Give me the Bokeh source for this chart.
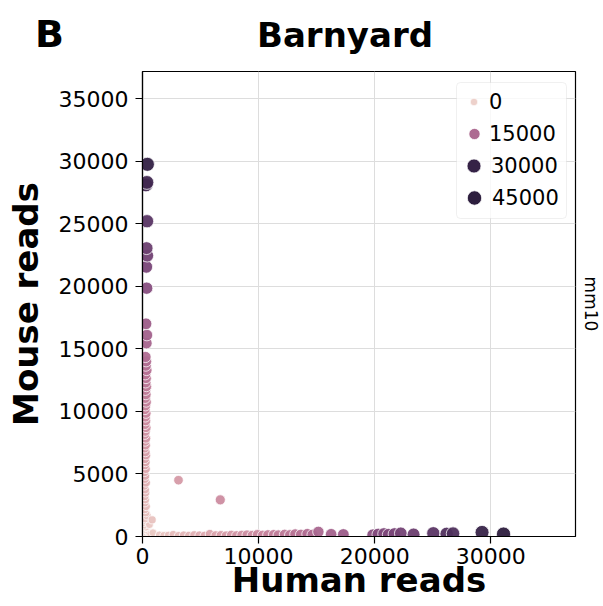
import numpy as np
from bokeh.plotting import figure
from bokeh.layouts import column
from bokeh.models import (Range1d, FixedTicker, Legend, LegendItem, BoxAnnotation, Div,
                          LinearAxis, LinearColorMapper, ColumnDataSource)
from bokeh.embed import file_html
from bokeh.resources import INLINE

# ---------------- data ----------------
# mouse cells: many mouse reads, few human reads
mouse_cells_mouse = [29750, 28300, 28100, 25200, 23050, 22450, 21550, 19850, 17000, 16100,
                     15450, 14350, 14000, 13650, 13300, 12950, 12650, 12300, 12000, 11700,
                     11350, 11050, 10750, 10450, 10150, 9850, 9550, 9250, 8950, 8700,
                     8400, 8150, 7850, 7600, 7300, 7050, 6750, 6500, 6200, 5950,
                     5700, 5400, 5150, 4850, 4600, 4300, 4050, 3750, 3500, 3200,
                     2950, 2700, 2400, 2150, 1900, 1650, 1400, 1200, 950, 750]
mouse_cells_human = [420, 380, 300, 390, 350, 410, 330, 360, 300, 380,
                     340, 260, 310, 280, 350, 240, 300, 270, 330, 250,
                     290, 230, 320, 260, 210, 300, 250, 280, 220, 310,
                     240, 200, 290, 230, 270, 190, 250, 300, 210, 260,
                     220, 280, 180, 240, 200, 300, 170, 230, 260, 190,
                     250, 210, 320, 180, 280, 400, 230, 350, 600, 300]
# human cells: many human reads, few mouse reads
human_cells_human = [31100, 29250, 26750, 26200, 25050, 23350, 22250, 21700, 21200, 20800,
                     20300, 19850, 17300, 16250, 15150, 14650, 14200, 13650, 13150, 12700,
                     12250, 11700, 11300, 10800, 10350, 9900, 9450, 9000, 8550, 8100,
                     7650, 7200, 6750, 6300, 5800, 5350, 4900, 4450, 4000, 3550,
                     3100, 2650, 2250, 1850, 1450]
human_cells_mouse = [190, 330, 230, 210, 260, 160, 250, 200, 150, 210,
                     170, 120, 160, 180, 370, 140, 200, 150, 180, 120,
                     160, 110, 140, 130, 100, 150, 90, 130, 110, 80,
                     120, 70, 100, 90, 200, 60, 90, 110, 70, 100,
                     60, 150, 90, 70, 120]
# low-count barcodes near the origin
low_human = [120, 250, 400, 80, 600, 300, 150, 500, 700, 200,
             350, 100, 450, 900, 250, 180, 60, 320, 550, 800]
low_mouse = [100, 60, 250, 400, 150, 700, 300, 80, 200, 900,
             500, 1100, 120, 300, 150, 550, 650, 40, 350, 100]
# doublets
doublet_human = [3100, 6700, 830]
doublet_mouse = [4500, 2930, 1330]

legend_values = [0, 15000, 30000, 45000]
x_ticks = [0, 10000, 20000, 30000]
y_ticks = [0, 5000, 10000, 15000, 20000, 25000, 30000, 35000]
panel_letter = "B"
title_text = "Barnyard"
facet_text = "mm10"

# ---------------- colour / size scales ----------------
def cubehelix_hex(n, start=0.0, rot=0.4, gamma=1.0, hue=0.8, light=0.85, dark=0.15):
    x = np.linspace(light, dark, n)
    xg = x ** gamma
    a = hue * xg * (1 - xg) / 2
    phi = 2 * np.pi * (start / 3 + rot * x)
    r = xg + a * (-0.14861 * np.cos(phi) + 1.78277 * np.sin(phi))
    g = xg + a * (-0.29227 * np.cos(phi) - 0.90649 * np.sin(phi))
    b = xg + a * (1.97294 * np.cos(phi))
    rgb = np.clip(np.stack([r, g, b], axis=1), 0, 1)
    return ["#%02x%02x%02x" % tuple(int(round(c * 255)) for c in row) for row in rgb]

palette = cubehelix_hex(256)
hue_low, hue_high = 0, 31000
mapper = LinearColorMapper(palette=palette, low=hue_low, high=hue_high)

def color_for(v):
    t = (v - hue_low) / (hue_high - hue_low)
    i = int(min(max(np.floor(t * len(palette)), 0), len(palette) - 1))
    return palette[i]

def size_for(total):
    t = np.clip(np.asarray(total, dtype=float) / 33000.0, 0, 1)
    return np.sqrt(7.5 ** 2 + (14.5 ** 2 - 7.5 ** 2) * t)

human = np.array(mouse_cells_human + human_cells_human + low_human + doublet_human, dtype=float)
mouse = np.array(mouse_cells_mouse + human_cells_mouse + low_mouse + doublet_mouse, dtype=float)
total = human + mouse
order = np.argsort(total)
src = ColumnDataSource(dict(human=human[order], mouse=mouse[order],
                            total=total[order], size=size_for(total[order])))

FONT = "DejaVu Sans"
W = 603
HEADER_H = 60

# ---------------- header: panel letter + title ----------------
header_html = (
    '<div style="position:relative;width:%dpx;height:%dpx;' % (W, HEADER_H)
    + "font-family:'DejaVu Sans',sans-serif;font-weight:bold;color:black;\">"
    '<span style="position:absolute;left:35px;top:15px;font-size:38px;line-height:1;">'
    + panel_letter + '</span>'
    '<span style="position:absolute;left:257px;top:18px;font-size:34px;line-height:1;">'
    + title_text + '</span></div>'
)
header = Div(text=header_html, width=W, height=HEADER_H, margin=0)

# ---------------- main scatter ----------------
p = figure(width=W, height=606 - HEADER_H,
           x_range=Range1d(0, 37300), y_range=Range1d(0, 37170),
           output_backend="svg", toolbar_location=None,
           min_border_left=142, min_border_right=26,
           min_border_top=71 - HEADER_H, min_border_bottom=70)
p.background_fill_color = "white"
p.border_fill_color = "white"
p.outline_line_color = "black"
p.outline_line_width = 1.2

p.scatter("human", "mouse", source=src, size="size",
          fill_color={"field": "total", "transform": mapper},
          fill_alpha=0.95, line_color="white", line_width=0.75)

for ax in (p.xaxis[0], p.yaxis[0]):
    ax.axis_line_color = "black"
    ax.axis_line_width = 1.2
    ax.major_tick_line_color = "black"
    ax.major_tick_line_width = 1.2
    ax.major_tick_in = 0
    ax.major_tick_out = 7
    ax.minor_tick_line_color = None
    ax.major_label_text_font = FONT
    ax.major_label_text_font_size = "22px"
    ax.major_label_text_color = "black"
    ax.axis_label_text_font = FONT
    ax.axis_label_text_font_size = "34px"
    ax.axis_label_text_font_style = "bold"
    ax.axis_label_text_color = "black"

p.xaxis.ticker = FixedTicker(ticks=x_ticks)
p.yaxis.ticker = FixedTicker(ticks=y_ticks)
p.xaxis.axis_label = "Human reads"
p.yaxis.axis_label = "Mouse reads"
p.xaxis.major_label_standoff = 4
p.xaxis.axis_label_standoff = -7
p.yaxis.major_label_standoff = 7
p.yaxis.axis_label_standoff = 10

# facet label on the right, as the label of an empty right axis
facet_axis = LinearAxis(ticker=FixedTicker(ticks=[]), axis_label=facet_text,
                        axis_line_color=None, major_tick_out=0, major_tick_in=0,
                        minor_tick_out=0, minor_tick_in=0, major_label_standoff=0,
                        axis_label_standoff=5, axis_label_text_font=FONT,
                        axis_label_text_font_size="17px", axis_label_text_font_style="normal",
                        axis_label_text_color="black")
p.add_layout(facet_axis, "right")

p.xgrid.grid_line_color = "#dddddd"
p.ygrid.grid_line_color = "#dddddd"
p.xgrid.grid_line_width = 1
p.ygrid.grid_line_width = 1

# data legend frame
p.add_layout(BoxAnnotation(left=314, right=424, bottom=318, top=454,
                           left_units="screen", right_units="screen",
                           top_units="screen", bottom_units="screen",
                           fill_color="white", fill_alpha=0.8,
                           line_color="#cccccc", line_width=1, border_radius=4))

row_centers = [434, 403, 371, 339]
leg_sizes = size_for(legend_values)
GH = 37
for val, d, cy in zip(legend_values, leg_sizes, row_centers):
    col = color_for(val)
    r = p.scatter(x=[np.nan], y=[np.nan], size=float(d), fill_color=col, fill_alpha=1.0,
                  line_color="white", line_width=0.75)
    gw = int(round(float(d) / 0.4))
    leg = Legend(items=[LegendItem(label=str(val), renderers=[r])],
                 location=(int(round(332 - gw / 2)), int(round(cy - GH / 2))),
                 glyph_width=gw, glyph_height=GH, label_height=GH,
                 label_standoff=int(round(15 - gw / 2)), padding=0, margin=0, spacing=0,
                 border_line_color=None, background_fill_alpha=0,
                 label_text_font=FONT, label_text_font_size="21px",
                 label_text_color="black")
    p.add_layout(leg, "center")

layout = column(header, p, spacing=0)
open("out.html", "w").write(file_html(layout, INLINE))
